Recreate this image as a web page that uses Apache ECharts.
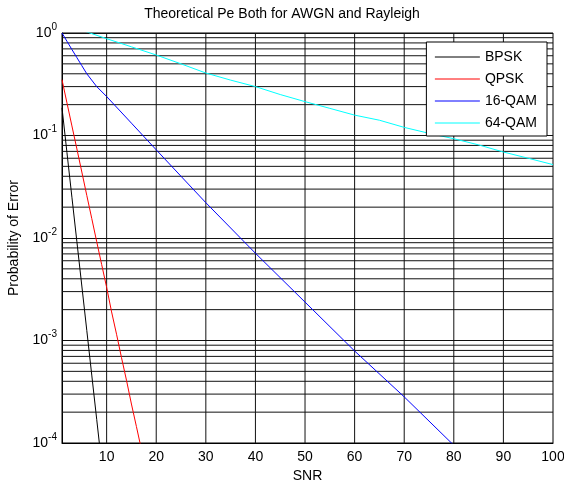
<!DOCTYPE html>
<html>
<head>
<meta charset="utf-8">
<title>Theoretical Pe</title>
<script src="https://cdn.jsdelivr.net/npm/echarts@6/dist/echarts.min.js"></script>
<style>
    html, body { margin: 0; padding: 0; background: #fff; }
    #chart { width: 564px; height: 483px; }
</style>
</head>
<body>
<div id="chart"></div>
<script>
// values
const snrBpsk = [1, 2, 3, 4, 5, 6, 7, 8, 9];
const peBpsk = [0.186, 0.068, 0.025, 0.0092, 0.0034, 0.00125, 0.00046, 0.00017, 0.000062];

const snrQpsk = [1, 2, 3, 4, 5, 6, 7, 8, 9, 10, 11, 12, 13, 14, 15, 16, 17];
const peQpsk = [0.35, 0.208, 0.124, 0.074, 0.044, 0.026, 0.0155, 0.0092, 0.0055, 0.0033,
    0.0019, 0.00115, 0.00068, 0.00041, 0.00024, 0.000145, 0.000087];

const snr16 = [1, 2, 3, 4, 5, 6, 8, 10, 15, 20, 25, 30, 40, 50, 60, 70, 80];
const pe16 = [1.0, 0.83, 0.69, 0.575, 0.48, 0.40, 0.30, 0.24, 0.132, 0.0725, 0.040,
    0.0221, 0.0071, 0.00237, 0.00079, 0.000282, 0.000095];

const snr64 = [5, 10, 15, 20, 25, 30, 35, 40, 45, 50, 55, 60, 65, 70, 75, 80, 85, 90, 95, 100];
const pe64 = [1.064, 0.88, 0.733, 0.61, 0.50, 0.407, 0.347, 0.30, 0.251, 0.214, 0.184,
    0.158, 0.141, 0.12, 0.105, 0.093, 0.081, 0.069, 0.060, 0.052];

const xTicks = [10, 20, 30, 40, 50, 60, 70, 80, 90, 100];
const xRange = [1, 100];
const yRange = [0.0001, 1];
const decades = [1, 0.1, 0.01, 0.001];
const mantissas = [2, 3, 4, 5, 6, 7, 8, 9];

const font = 'Liberation Sans, Arial, sans-serif';

function zip(xs, ys) {
    return xs.map((x, i) => [x, ys[i]]);
}

function curve(name, color, xs, ys) {
    return {
        name: name,
        type: 'line',
        data: zip(xs, ys),
        symbol: 'none',
        showSymbol: false,
        clip: true,
        z: 3,
        lineStyle: { color: color, width: 1 },
        itemStyle: { color: color }
    };
}

// grid lines drawn as plain line series on the chart's own axes
function gridSeries(points) {
    return {
        type: 'line',
        data: points,
        symbol: 'none',
        silent: true,
        z: 1,
        lineStyle: { color: '#111', width: 1 },
        emphasis: { disabled: true },
        tooltip: { show: false }
    };
}

const gridLines = [];
decades.forEach(d => {
    mantissas.forEach(m => {
        const v = +(d * m / 10).toPrecision(3);
        gridLines.push(gridSeries([[xRange[0], v], [xRange[1], v]]));
    });
});
xTicks.slice(0, -1).forEach(x => {
    gridLines.push(gridSeries([[x, yRange[0]], [x, yRange[1]]]));
});

const chart = echarts.init(document.getElementById('chart'));
chart.setOption({
    animation: false,
    backgroundColor: '#fff',
    title: {
        text: 'Theoretical Pe Both for AWGN and Rayleigh',
        left: 'center',
        top: 7,
        padding: 0,
        textStyle: { fontFamily: font, fontSize: 14, fontWeight: 'normal', color: '#000' }
    },
    grid: {
        left: 62, right: 11, top: 33, bottom: 40,
        show: true, borderColor: '#000', borderWidth: 1, backgroundColor: 'transparent',
        outerBoundsMode: 'none'
    },
    legend: {
        data: ['BPSK', 'QPSK', '16-QAM', '64-QAM'],
        orient: 'vertical',
        right: 17,
        top: 42,
        itemWidth: 45,
        itemHeight: 14,
        itemGap: 8,
        padding: [8, 10, 6, 8],
        backgroundColor: '#fff',
        borderColor: '#000',
        borderWidth: 1,
        borderRadius: 0,
        itemStyle: { opacity: 0 },
        lineStyle: { width: 1 },
        textStyle: { fontFamily: font, fontSize: 14, color: '#000' }
    },
    xAxis: {
        type: 'value',
        min: xRange[0],
        max: xRange[1],
        name: 'SNR',
        nameLocation: 'middle',
        nameGap: 23,
        nameTextStyle: { fontFamily: font, fontSize: 14, color: '#000' },
        axisLine: { show: true, lineStyle: { color: '#000' } },
        axisTick: { show: false },
        splitLine: { show: false },
        axisLabel: {
            customValues: xTicks,
            margin: 7,
            fontFamily: font, fontSize: 14, color: '#000'
        }
    },
    yAxis: {
        type: 'log',
        logBase: 10,
        min: yRange[0],
        max: yRange[1],
        name: 'Probability of Error',
        nameLocation: 'middle',
        nameGap: 29,
        nameTextStyle: { fontFamily: font, fontSize: 14, color: '#000' },
        axisLine: { show: true, lineStyle: { color: '#000' } },
        axisTick: { show: false },
        splitLine: { show: true, lineStyle: { color: '#111', width: 1 } },
        axisLabel: {
            margin: 5,
            formatter: v => '{b|10}{s|' + Math.round(Math.log10(v)) + '}',
            rich: {
                b: { fontFamily: font, fontSize: 14, color: '#000' },
                s: { fontFamily: font, fontSize: 10, color: '#000', padding: [0, 0, 12, 0] }
            }
        }
    },
    series: gridLines.concat([
        curve('BPSK', '#000000', snrBpsk, peBpsk),
        curve('QPSK', '#ff0000', snrQpsk, peQpsk),
        curve('16-QAM', '#0000ff', snr16, pe16),
        curve('64-QAM', '#00ffff', snr64, pe64)
    ])
});

window.addEventListener('resize', () => chart.resize());
</script>
</body>
</html>
